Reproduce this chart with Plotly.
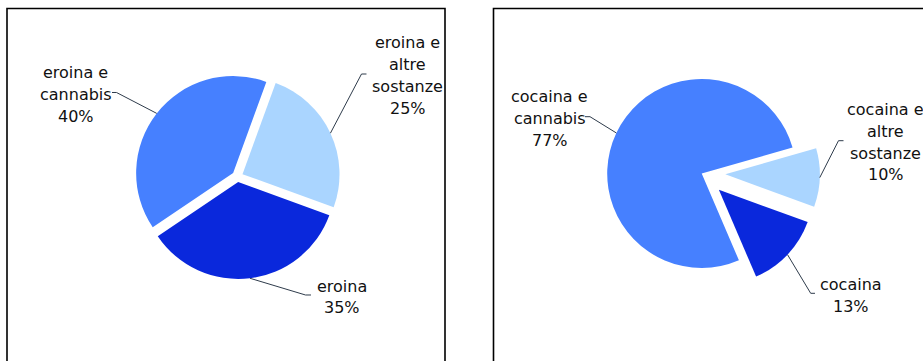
import math
import plotly.graph_objects as go

W, H = 923, 361

# ---- data -------------------------------------------------------------
eroina_labels = ["eroina e<br>altre<br>sostanze", "eroina", "eroina e<br>cannabis"]
eroina_values = [25, 35, 40]

cocaina_labels = ["cocaina e<br>altre<br>sostanze", "cocaina", "cocaina e<br>cannabis"]
cocaina_values = [10, 13, 77]

# ---- styling ----------------------------------------------------------
slice_colors = ["#AAD5FF", "#0A28DC", "#4680FF"]
line_color = "#2E3B4B"
text_color = "#111111"
font_family = "DejaVu Sans, Verdana, sans-serif"
font_size = 16
line_pitch = 21.8  # px between label lines

# pie geometry in pixels: centre, radius, pulls, start angle
pies = [
    dict(values=eroina_values, labels=eroina_labels, cx=237.5, cy=176.5, r=97,
         pull=[0.057, 0.057, 0.057], rotation=20,
         # label block centres and leader line ends (text end, elbow)
         label_pos=[(407.5, 75.7), (342.0, 297.0), (75.5, 94.3)],
         leader=[((366.5, 74.0), (361.5, 74.0)),
                 ((311.0, 295.0), (305.5, 295.0)),
                 ((112.0, 92.5), (116.5, 92.5))]),
    dict(values=cocaina_values, labels=cocaina_labels, cx=701.7, cy=173.5, r=94.5,
         pull=[0.25, 0.25, 0.0], rotation=74,
         label_pos=[(885.5, 142.2), (851.0, 295.5), (549.5, 118.3)],
         leader=[((843.5, 140.7), (838.5, 140.7)),
                 ((815.0, 293.3), (810.7, 293.3)),
                 ((585.0, 116.7), (590.0, 116.7))]),
]


def px_to_paper(x, y):
    return x / W, 1 - y / H


fig = go.Figure()
shapes = []
annotations = []

for p in pies:
    max_pull = max(p["pull"])
    box = 2 * p["r"] * (1 + max_pull)
    dom_y = [1 - (p["cy"] + box / 2) / H, 1 - (p["cy"] - box / 2) / H]
    dom_x = [(p["cx"] - box / 2 - 20) / W, (p["cx"] + box / 2 + 20) / W]

    fig.add_trace(go.Pie(
        values=p["values"],
        labels=[l.replace("<br>", " ") for l in p["labels"]],
        sort=False,
        direction="clockwise",
        rotation=p["rotation"],
        pull=p["pull"],
        marker=dict(colors=slice_colors, line=dict(width=0)),
        textinfo="none",
        hoverinfo="label+percent",
        domain=dict(x=dom_x, y=dom_y),
        showlegend=False,
    ))

    total = sum(p["values"])
    start = p["rotation"]
    for i, v in enumerate(p["values"]):
        span = 360.0 * v / total
        mid = math.radians(start + span / 2)
        start += span
        # slice edge point at its mid-angle, including the pull offset
        off = p["pull"][i] * p["r"]
        ax = p["cx"] + (off + p["r"]) * math.sin(mid)
        ay = p["cy"] - (off + p["r"]) * math.cos(mid)
        (tx, ty), (ex, ey) = p["leader"][i]
        pts = [px_to_paper(tx, ty), px_to_paper(ex, ey), px_to_paper(ax, ay)]
        path = "M {:.5f} {:.5f} L {:.5f} {:.5f} L {:.5f} {:.5f}".format(
            pts[0][0], pts[0][1], pts[1][0], pts[1][1], pts[2][0], pts[2][1])
        shapes.append(dict(type="path", xref="paper", yref="paper", path=path,
                           line=dict(color=line_color, width=1)))

        # label: category name lines followed by the percentage
        lines = p["labels"][i].split("<br>") + [f"{v}%"]
        bx, by = p["label_pos"][i]
        top = by - line_pitch * (len(lines) - 1) / 2
        for k, txt in enumerate(lines):
            lx, ly = px_to_paper(bx, top + k * line_pitch)
            annotations.append(dict(
                x=lx, y=ly, xref="paper", yref="paper",
                xanchor="center", yanchor="middle", align="center",
                showarrow=False, text=txt,
                font=dict(family=font_family, size=font_size, color=text_color),
            ))

# panel frames
for x0, x1 in [(7.0, 445.0), (493.5, 940.0)]:
    a = px_to_paper(x0, 8.5)
    b = px_to_paper(x1, 380.0)
    shapes.append(dict(type="rect", xref="paper", yref="paper",
                       x0=a[0], y0=a[1], x1=b[0], y1=b[1],
                       line=dict(color="#000000", width=1.6),
                       fillcolor="rgba(0,0,0,0)", layer="below"))

fig.update_layout(
    width=W, height=H,
    margin=dict(l=0, r=0, t=0, b=0),
    paper_bgcolor="white",
    plot_bgcolor="white",
    shapes=shapes,
    annotations=annotations,
    showlegend=False,
)

fig.write_html("out.html")
